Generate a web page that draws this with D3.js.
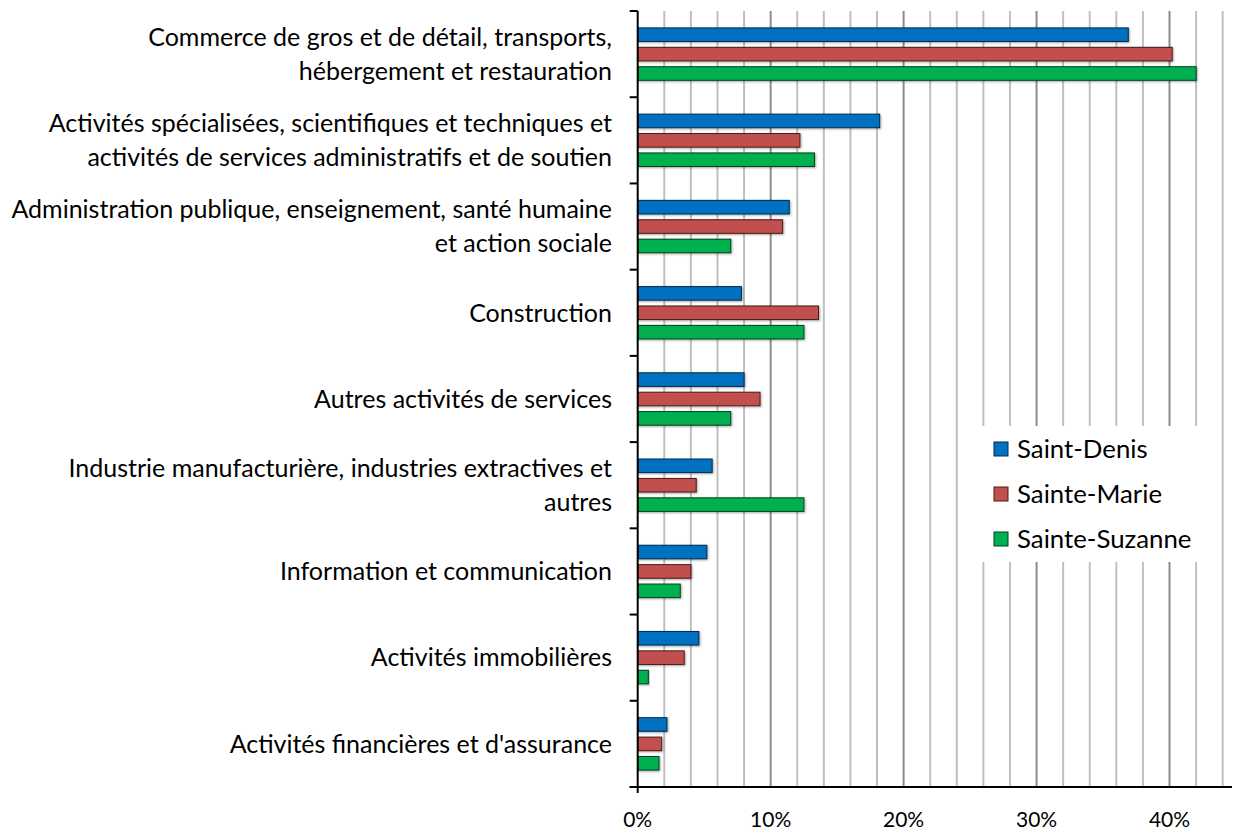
<!DOCTYPE html>
<html>
<head>
<meta charset="utf-8">
<script src="https://cdn.jsdelivr.net/npm/d3@7"></script>
<style>
  body { margin: 0; background: #fff; }
  svg text { font-family: Lato, "Open Sans", sans-serif; fill: #000; }
</style>
</head>
<body>
<svg id="chart" width="1236" height="833"></svg>
<script>
const categories = [
  ["Commerce de gros et de détail, transports,", "hébergement et restauration"],
  ["Activités spécialisées, scientifiques et techniques et", "activités de services administratifs et de soutien"],
  ["Administration publique, enseignement, santé humaine", "et action sociale"],
  ["Construction"],
  ["Autres activités de services"],
  ["Industrie manufacturière, industries extractives et", "autres"],
  ["Information et communication"],
  ["Activités immobilières"],
  ["Activités financières et d'assurance"]
];
const seriesNames = ["Saint-Denis", "Sainte-Marie", "Sainte-Suzanne"];
const saintDenis = [36.9, 18.2, 11.4, 7.8, 8.0, 5.6, 5.2, 4.6, 2.2];
const sainteMarie = [40.2, 12.2, 10.9, 13.6, 9.2, 4.4, 4.0, 3.5, 1.8];
const sainteSuzanne = [42.0, 13.3, 7.0, 12.5, 7.0, 12.5, 3.2, 0.8, 1.6];
const xTicks = [0, 10, 20, 30, 40];

const fills = ["#0070c0", "#c0504d", "#00b050"];
const strokes = ["#002a4a", "#4a1a18", "#00401c"];
const values = [saintDenis, sainteMarie, sainteSuzanne];

const svg = d3.select("#chart");
const m = { l: 637.7, r: 1232, t: 11, b: 787 };

const x = d3.scaleLinear().domain([0, 44.7]).range([m.l, m.r]);
const catKeys = categories.map((d, i) => i);
const y0 = d3.scaleBand().domain(catKeys).range([m.t, m.b])
  .paddingInner(0.325).paddingOuter(0.1625);
const y1 = d3.scaleBand().domain(d3.range(3)).range([0, y0.bandwidth()])
  .paddingInner(0.3).paddingOuter(0.15);

const defs = svg.append("defs");
const f = defs.append("filter").attr("id", "shadow")
  .attr("x", "-5%").attr("y", "-30%").attr("width", "115%").attr("height", "170%");
f.append("feDropShadow").attr("dx", 1).attr("dy", 1).attr("stdDeviation", 1)
  .attr("flood-color", "#000").attr("flood-opacity", 0.35);

// gridlines every 2%
const grid = d3.range(2, 45, 2);
svg.append("g").selectAll("line").data(grid).join("line")
  .attr("x1", d => x(d)).attr("x2", d => x(d))
  .attr("y1", m.t).attr("y2", m.b)
  .attr("stroke", d => d % 10 === 0 ? "#8c8c8c" : "#bfbfbf")
  .attr("stroke-width", 2);

// legend box (white, hides gridlines)
const lg = svg.append("g").attr("transform", "translate(960,426)");
lg.append("rect").attr("width", 258).attr("height", 136).attr("fill", "#fff");
seriesNames.forEach((name, i) => {
  const row = lg.append("g").attr("transform", `translate(34,${23 + i * 45})`);
  row.append("rect").attr("x", 0).attr("y", -7).attr("width", 14).attr("height", 14)
    .attr("fill", fills[i]).attr("stroke", strokes[i]).attr("stroke-width", 1);
  row.append("text").attr("x", 23).attr("y", 0).attr("dy", "0.35em")
    .attr("font-size", 25.8).text(name);
});

// bars
const groups = svg.append("g").selectAll("g").data(catKeys).join("g")
  .attr("transform", d => `translate(0,${y0(d)})`);
groups.selectAll("rect").data(c => values.map((v, s) => ({ s, v: v[c] })))
  .join("rect")
  .attr("x", x(0))
  .attr("y", d => y1(d.s))
  .attr("width", d => x(d.v) - x(0))
  .attr("height", y1.bandwidth())
  .attr("fill", d => fills[d.s])
  .attr("stroke", d => strokes[d.s])
  .attr("stroke-width", 1)
  .attr("filter", "url(#shadow)");

// y axis
const step = y0.step();
const ax = svg.append("g");
ax.append("line").attr("x1", m.l).attr("x2", m.l).attr("y1", m.t).attr("y2", m.b + 6)
  .attr("stroke", "#000").attr("stroke-width", 2);
ax.selectAll(".tk").data(d3.range(categories.length + 1)).join("line")
  .attr("class", "tk")
  .attr("x1", m.l - 8).attr("x2", m.l)
  .attr("y1", i => m.t + i * step).attr("y2", i => m.t + i * step)
  .attr("stroke", "#000").attr("stroke-width", 2);

// x axis
svg.append("line").attr("x1", m.l - 8).attr("x2", m.r).attr("y1", m.b).attr("y2", m.b)
  .attr("stroke", "#000").attr("stroke-width", 2);
svg.append("g").selectAll("text").data(xTicks).join("text")
  .attr("x", d => x(d)).attr("y", 820).attr("dy", "0.35em")
  .attr("text-anchor", "middle").attr("font-size", 21)
  .text(d => d + "%");

// category labels
const lab = svg.append("g").selectAll("text").data(catKeys).join("text")
  .attr("text-anchor", "end").attr("font-size", 25)
  .attr("transform", d => `translate(612,${y0(d) + y0.bandwidth() / 2})`);
lab.each(function (c) {
  const lines = categories[c];
  const lh = 34;
  const t = d3.select(this);
  lines.forEach((ln, k) => {
    t.append("tspan").attr("x", 0)
      .attr("y", (k - (lines.length - 1) / 2) * lh)
      .attr("dy", "0.35em").text(ln);
  });
});
</script>
</body>
</html>
